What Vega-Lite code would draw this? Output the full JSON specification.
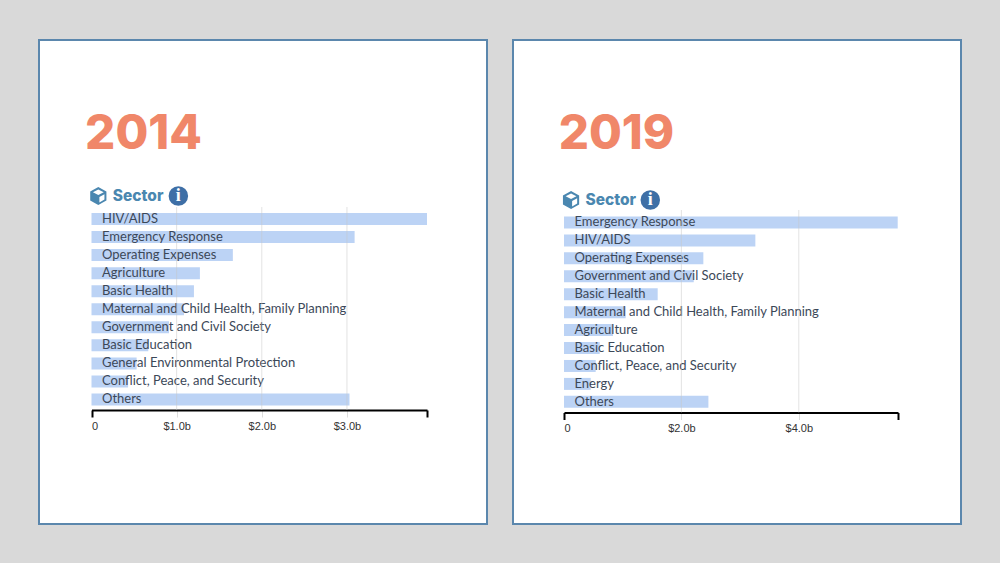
{
"$schema":"https://vega.github.io/schema/vega-lite/v6.json",
"background":"#d9d9d9",
"padding":{"left":38,"top":39,"right":40,"bottom":40},
"spacing":24,
"config":{"view":{"fill":"#ffffff","stroke":"#5b87ad","strokeWidth":2},"axis":{"labelFont":"Liberation Sans"}},
"hconcat":[
{"width":448,"height":484,
"resolve":{"scale":{"y":"independent"}},
"layer":[
{"data":{"values":[
{"sector":"HIV/AIDS","amount":3.94},{"sector":"Emergency Response","amount":3.09},{"sector":"Operating Expenses","amount":1.66},{"sector":"Agriculture","amount":1.273},{"sector":"Basic Health","amount":1.203},{"sector":"Maternal and Child Health, Family Planning","amount":1.086},{"sector":"Government and Civil Society","amount":0.91},{"sector":"Basic Education","amount":0.667},{"sector":"General Environmental Protection","amount":0.53},{"sector":"Conflict, Peace, and Security","amount":0.43},{"sector":"Others","amount":3.03}]},
"layer":[
{"mark":{"type":"bar","color":"#bcd3f5","size":12,"cornerRadius":0},
"encoding":{
"x":{"field":"amount","type":"quantitative","title":null,"scale":{"domain":[0,3.94],"range":[52.5,388],"nice":false},
"axis":{"values":[0,1,2,3,3.94],"grid":false,"offset":-114,"domainColor":"#000000","domainWidth":2,"tickSize":7,"tickColor":{"condition":{"test":"datum.value===0||datum.value>3.5","value":"#000000"},"value":"#dddddd"},"tickWidth":{"condition":{"test":"datum.value===0||datum.value>3.5","value":2},"value":1},"labelFontSize":11,"labelColor":"#333333","labelPadding":3,"labelFlush":true,"labelExpr":"datum.value===0?'0':(datum.value>3.5?'':'$'+format(datum.value,'.1f')+'b')"}},
"y":{"field":"sector","type":"nominal","sort":null,"axis":null,"scale":{"range":[170,368.5],"paddingInner":0,"paddingOuter":0}}}},
{"mark":{"type":"text","align":"left","baseline":"middle","dx":10.5,"font":"Lato","fontSize":13,"color":"#3c4858"},
"encoding":{"x":{"datum":0,"type":"quantitative"},"y":{"field":"sector","type":"nominal","sort":null,"axis":null},"text":{"field":"sector"}}}
]},
{"data":{"values":[{"tick":1,"from":"top","to":"bottom"},{"tick":2,"from":"top","to":"bottom"},{"tick":3,"from":"top","to":"bottom"}]},
"mark":{"type":"rule","color":"#c8c8c8","opacity":0.5,"strokeWidth":1},
"encoding":{"x":{"field":"tick","type":"quantitative"},"y":{"field":"from","type":"nominal","axis":null,"scale":{"type":"point","domain":["top","bottom"],"range":[167,370],"padding":0}},"y2":{"field":"to"}}},
{"data":{"values":[{"slot":"year","item":"2014","at":-0.075},{"slot":"sector","item":"Sector","at":0.25}]},
"mark":{"type":"text","align":"left","baseline":"middle","font":"Inter","fontWeight":800},
"encoding":{"x":{"field":"at","type":"quantitative"},"y":{"field":"slot","type":"nominal","axis":null,"scale":{"type":"point","domain":["year","sector"],"range":[95,156],"padding":0}},"text":{"field":"item"},
"size":{"field":"slot","type":"nominal","legend":null,"scale":{"domain":["year","sector"],"range":[47.5,15.5]}},
"color":{"field":"slot","type":"nominal","legend":null,"scale":{"domain":["year","sector"],"range":["#f08769","#4a87b0"]}}}},
{"data":{"values":[{"icon":"cube","at":0.08}]},
"layer":[
{"mark":{"type":"point","filled":true,"opacity":1,"color":"#4a87b0","size":324,"shape":"M0,-1 L0.9,-0.5 L0.9,0.5 L0,1 L-0.9,0.5 L-0.9,-0.5 Z"},
"encoding":{"x":{"field":"at","type":"quantitative"},"y":{"field":"icon","type":"nominal","axis":null,"scale":{"type":"point","domain":["cube"],"range":[156,156],"padding":0}}}},
{"mark":{"type":"point","filled":true,"opacity":1,"color":"#ffffff","size":324,"shape":"M0,-0.72 L0.6,-0.42 L0,-0.1 L-0.6,-0.42 Z M0.12,0.1 L0.68,-0.2 L0.68,0.38 L0.12,0.72 Z"},
"encoding":{"x":{"field":"at","type":"quantitative"},"y":{"field":"icon","type":"nominal","axis":null}}}
]},
{"data":{"values":[{"icon":"info","at":1.02,"glyph":"i"}]},
"layer":[
{"mark":{"type":"point","filled":true,"opacity":1,"color":"#3e6fa6","size":380,"shape":"circle"},
"encoding":{"x":{"field":"at","type":"quantitative"},"y":{"field":"icon","type":"nominal","axis":null,"scale":{"type":"point","domain":["info"],"range":[156,156],"padding":0}}}},
{"mark":{"type":"text","align":"center","baseline":"middle","font":"Liberation Serif","fontWeight":"bold","fontSize":18,"color":"#ffffff"},
"encoding":{"x":{"field":"at","type":"quantitative"},"y":{"field":"icon","type":"nominal","axis":null},"text":{"field":"glyph"}}}
]}
]},
{"width":448,"height":484,
"resolve":{"scale":{"y":"independent"}},
"layer":[
{"data":{"values":[
{"sector":"Emergency Response","amount":5.685},{"sector":"HIV/AIDS","amount":3.26},{"sector":"Operating Expenses","amount":2.374},{"sector":"Government and Civil Society","amount":2.21},{"sector":"Basic Health","amount":1.596},{"sector":"Maternal and Child Health, Family Planning","amount":1.051},{"sector":"Agriculture","amount":0.835},{"sector":"Basic Education","amount":0.608},{"sector":"Conflict, Peace, and Security","amount":0.54},{"sector":"Energy","amount":0.455},{"sector":"Others","amount":2.46}]},
"layer":[
{"mark":{"type":"bar","color":"#bcd3f5","size":12,"cornerRadius":0},
"encoding":{
"x":{"field":"amount","type":"quantitative","title":null,"scale":{"domain":[0,5.69],"range":[51,385],"nice":false},
"axis":{"values":[0,2,4,5.69],"grid":false,"offset":-111.5,"domainColor":"#000000","domainWidth":2,"tickSize":7,"tickColor":{"condition":{"test":"datum.value===0||datum.value>5","value":"#000000"},"value":"#dddddd"},"tickWidth":{"condition":{"test":"datum.value===0||datum.value>5","value":2},"value":1},"labelFontSize":11,"labelColor":"#333333","labelPadding":3,"labelFlush":true,"labelExpr":"datum.value===0?'0':(datum.value>5?'':'$'+format(datum.value,'.1f')+'b')"}},
"y":{"field":"sector","type":"nominal","sort":null,"axis":null,"scale":{"range":[173.5,370.8],"paddingInner":0,"paddingOuter":0}}}},
{"mark":{"type":"text","align":"left","baseline":"middle","dx":10.5,"font":"Lato","fontSize":13,"color":"#3c4858"},
"encoding":{"x":{"datum":0,"type":"quantitative"},"y":{"field":"sector","type":"nominal","sort":null,"axis":null},"text":{"field":"sector"}}}
]},
{"data":{"values":[{"tick":2,"from":"top","to":"bottom"},{"tick":4,"from":"top","to":"bottom"}]},
"mark":{"type":"rule","color":"#c8c8c8","opacity":0.5,"strokeWidth":1},
"encoding":{"x":{"field":"tick","type":"quantitative"},"y":{"field":"from","type":"nominal","axis":null,"scale":{"type":"point","domain":["top","bottom"],"range":[170,372.5],"padding":0}},"y2":{"field":"to"}}},
{"data":{"values":[{"slot":"year","item":"2019","at":-0.09},{"slot":"sector","item":"Sector","at":0.365}]},
"mark":{"type":"text","align":"left","baseline":"middle","font":"Inter","fontWeight":800},
"encoding":{"x":{"field":"at","type":"quantitative"},"y":{"field":"slot","type":"nominal","axis":null,"scale":{"type":"point","domain":["year","sector"],"range":[95,160],"padding":0}},"text":{"field":"item"},
"size":{"field":"slot","type":"nominal","legend":null,"scale":{"domain":["year","sector"],"range":[47.5,15.5]}},
"color":{"field":"slot","type":"nominal","legend":null,"scale":{"domain":["year","sector"],"range":["#f08769","#4a87b0"]}}}},
{"data":{"values":[{"icon":"cube","at":0.12}]},
"layer":[
{"mark":{"type":"point","filled":true,"opacity":1,"color":"#4a87b0","size":324,"shape":"M0,-1 L0.9,-0.5 L0.9,0.5 L0,1 L-0.9,0.5 L-0.9,-0.5 Z"},
"encoding":{"x":{"field":"at","type":"quantitative"},"y":{"field":"icon","type":"nominal","axis":null,"scale":{"type":"point","domain":["cube"],"range":[160,160],"padding":0}}}},
{"mark":{"type":"point","filled":true,"opacity":1,"color":"#ffffff","size":324,"shape":"M0,-0.72 L0.6,-0.42 L0,-0.1 L-0.6,-0.42 Z M0.12,0.1 L0.68,-0.2 L0.68,0.38 L0.12,0.72 Z"},
"encoding":{"x":{"field":"at","type":"quantitative"},"y":{"field":"icon","type":"nominal","axis":null}}}
]},
{"data":{"values":[{"icon":"info","at":1.47,"glyph":"i"}]},
"layer":[
{"mark":{"type":"point","filled":true,"opacity":1,"color":"#3e6fa6","size":380,"shape":"circle"},
"encoding":{"x":{"field":"at","type":"quantitative"},"y":{"field":"icon","type":"nominal","axis":null,"scale":{"type":"point","domain":["info"],"range":[160,160],"padding":0}}}},
{"mark":{"type":"text","align":"center","baseline":"middle","font":"Liberation Serif","fontWeight":"bold","fontSize":18,"color":"#ffffff"},
"encoding":{"x":{"field":"at","type":"quantitative"},"y":{"field":"icon","type":"nominal","axis":null},"text":{"field":"glyph"}}}
]}
]}
],
"resolve":{"scale":{"size":"independent","color":"independent"}}
}
